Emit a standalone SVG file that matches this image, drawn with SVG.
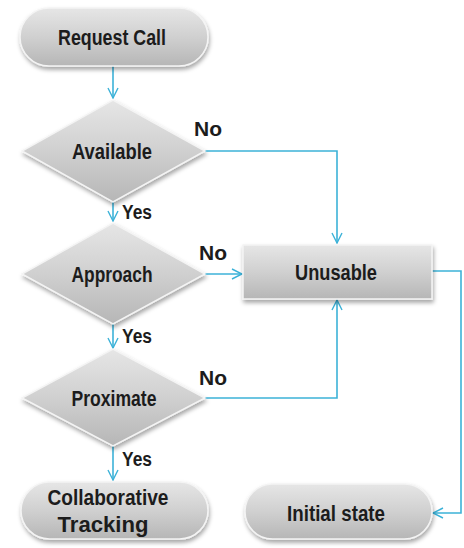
<svg xmlns="http://www.w3.org/2000/svg" width="464" height="548" viewBox="0 0 464 548">
<defs>
<linearGradient id="g" x1="0" y1="0" x2="0" y2="1">
<stop offset="0" stop-color="#e6e6e6"/>
<stop offset="0.5" stop-color="#d0d0d0"/>
<stop offset="1" stop-color="#b6b6b6"/>
</linearGradient>
<filter id="sh" x="-10%" y="-10%" width="125%" height="135%">
<feDropShadow dx="1" dy="3" stdDeviation="2" flood-color="#000" flood-opacity="0.35"/>
</filter>
<marker id="ar" viewBox="0 0 12 12" refX="11" refY="6" markerWidth="12" markerHeight="12" markerUnits="userSpaceOnUse" orient="auto">
<path d="M1,1 L11,6 L1,11" fill="none" stroke="#3cb2d8" stroke-width="1.4"/>
</marker>
<style>
.shape{fill:url(#g);stroke:#f4f4f4;stroke-width:1.5;filter:url(#sh)}
.t{font-family:"Liberation Sans",Arial,sans-serif;font-size:22px;font-weight:bold;fill:#1c1c1c;text-anchor:middle}
.l{font-family:"Liberation Sans",Arial,sans-serif;font-size:20px;font-weight:bold;fill:#1c1c1c}
.c{fill:none;stroke:#3cb2d8;stroke-width:1.6;marker-end:url(#ar)}
</style>
</defs>
<rect width="464" height="548" fill="#fff"/>
<g id="connectors">
<path class="c" d="M113,66 V98"/>
<path class="c" d="M113,202 V221"/>
<path class="c" d="M113,324 V348"/>
<path class="c" d="M113,446 V480"/>
<path class="c" d="M205,151 H337 V243"/>
<path class="c" d="M205,274 H242"/>
<path class="c" d="M205,398 H337 V300"/>
<path class="c" d="M432,271 H461 V513 H433"/>
</g>
<g id="labels">
<text class="l" x="194" y="136" textLength="28" lengthAdjust="spacingAndGlyphs">No</text>
<text class="l" x="122" y="219" textLength="30" lengthAdjust="spacingAndGlyphs">Yes</text>
<text class="l" x="199" y="260" textLength="28" lengthAdjust="spacingAndGlyphs">No</text>
<text class="l" x="122" y="343" textLength="30" lengthAdjust="spacingAndGlyphs">Yes</text>
<text class="l" x="199" y="385" textLength="28" lengthAdjust="spacingAndGlyphs">No</text>
<text class="l" x="122" y="466" textLength="30" lengthAdjust="spacingAndGlyphs">Yes</text>
</g>
<g id="request-call">
<rect class="shape" x="20" y="8" width="188" height="58" rx="29"/>
<text class="t" x="112" y="45" textLength="108" lengthAdjust="spacingAndGlyphs">Request Call</text>
</g>
<g id="available">
<polygon class="shape" points="113,100 205,151 113,202 22,151"/>
<text class="t" x="112" y="159" textLength="80" lengthAdjust="spacingAndGlyphs">Available</text>
</g>
<g id="approach">
<polygon class="shape" points="113,223 205,274 113,324 22,274"/>
<text class="t" x="112" y="282" textLength="81" lengthAdjust="spacingAndGlyphs">Approach</text>
</g>
<g id="proximate">
<polygon class="shape" points="113,349 205,398 113,446 22,398"/>
<text class="t" x="114" y="406" textLength="85" lengthAdjust="spacingAndGlyphs">Proximate</text>
</g>
<g id="unusable">
<rect class="shape" x="243" y="245" width="189" height="54"/>
<text class="t" x="336" y="280" textLength="82" lengthAdjust="spacingAndGlyphs">Unusable</text>
</g>
<g id="collaborative-tracking">
<rect class="shape" x="21" y="482" width="187" height="57" rx="28.5"/>
<text class="t" x="108" y="505" textLength="121" lengthAdjust="spacingAndGlyphs">Collaborative</text>
<text class="t" x="103" y="532" textLength="91" lengthAdjust="spacingAndGlyphs">Tracking</text>
</g>
<g id="initial-state">
<rect class="shape" x="245" y="484" width="187" height="55" rx="27.5"/>
<text class="t" x="336" y="521" textLength="98" lengthAdjust="spacingAndGlyphs">Initial state</text>
</g>
</svg>
